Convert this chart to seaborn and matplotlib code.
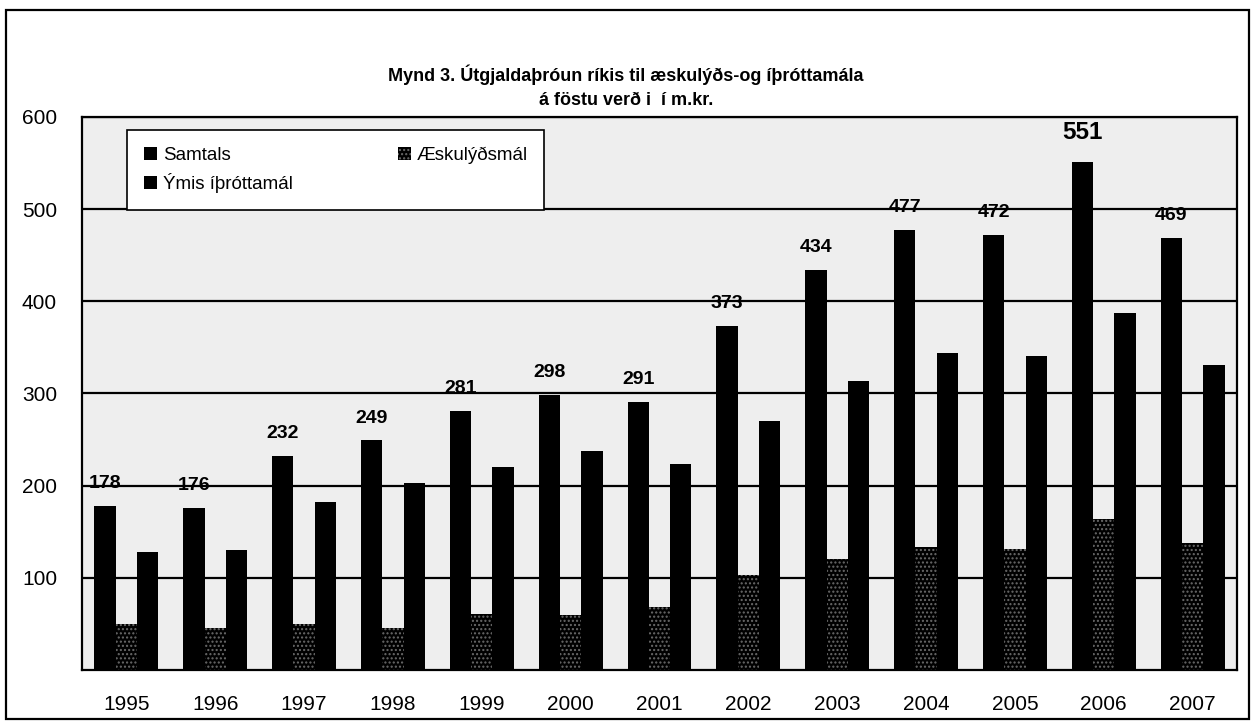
import seaborn as sns
from matplotlib import pyplot as plt
from matplotlib.patches import Rectangle
import pandas as pd

years = ['1995', '1996', '1997', '1998', '1999', '2000', '2001',
         '2002', '2003', '2004', '2005', '2006', '2007']
samtals = [178, 176, 232, 249, 281, 298, 291, 373, 434, 477, 472, 551, 469]
aesku = [50, 46, 50, 46, 61, 60, 68, 103, 120, 133, 131, 164, 138]
ymis = [128, 130, 182, 203, 220, 238, 223, 270, 314, 344, 341, 387, 331]
series = ['Samtals', 'Æskulýðsmál', 'Ýmis íþróttamál']

df = pd.DataFrame({
    'ar': years * 3,
    'gildi': samtals + aesku + ymis,
    'flokkur': [series[0]] * 13 + [series[1]] * 13 + [series[2]] * 13,
})

sns.set_style('white')
plt.rcParams['font.family'] = ['Liberation Sans', 'DejaVu Sans']
plt.rcParams['hatch.linewidth'] = 1.0
for k in ['text.color', 'axes.labelcolor', 'xtick.color', 'ytick.color']:
    plt.rcParams[k] = 'black'

fig = plt.figure(figsize=(12.52, 7.22), dpi=100)
ax = fig.add_axes([0.0655, 0.072, 0.9225, 0.766])
ax.set_facecolor('#eeeeee')

pal = {series[0]: '#000000', series[1]: '#000000', series[2]: '#000000'}
sns.barplot(data=df, x='ar', y='gildi', hue='flokkur', palette=pal,
            width=0.72, gap=0, saturation=1, legend=False, ax=ax,
            linewidth=0, zorder=3)

for bar in ax.containers[1].patches:
    bar.set_hatch('....')
    bar.set_edgecolor('#6a6a6a')
    bar.set_linewidth(0)

for bar, v in zip(ax.containers[0].patches, samtals):
    big = v == max(samtals)
    ax.annotate(str(v), (bar.get_x() + bar.get_width() / 2, v),
                xytext=(0, 13 if big else 10), textcoords='offset points',
                ha='center', va='bottom', fontweight='bold',
                fontsize=17.5 if big else 14, zorder=5)

ax.set_ylim(0, 600)
ax.set_xlim(-0.5, 12.5)
ax.set_yticks([100, 200, 300, 400, 500, 600])
ax.yaxis.grid(True, color='black', linewidth=1.6, zorder=1)
ax.set_axisbelow(True)
ax.set_xticks([i + 0.5 for i in range(-1, 13)], minor=True)
ax.tick_params(axis='x', which='major', length=0, labelsize=15, pad=18)
ax.tick_params(axis='x', which='minor', length=6, width=1.5, direction='out')
ax.tick_params(axis='y', length=8, width=1.5, direction='out', labelsize=15, pad=10)
ax.set_xlabel('')
ax.set_ylabel('')
for s in ax.spines.values():
    s.set_visible(True)
    s.set_color('black')
    s.set_linewidth(1.6)

handles = [ax.containers[0], ax.containers[2], ax.containers[1]]
labels = [series[0], series[2], series[1]]
leg = ax.legend(handles, labels, ncol=2, loc='upper left',
                bbox_to_anchor=(0.039, 0.977), borderaxespad=0,
                frameon=True, fancybox=False,
                edgecolor='black', framealpha=1, fontsize=13.5,
                handlelength=0.7, handleheight=0.7, handletextpad=0.3,
                columnspacing=5.6, labelspacing=0.5, borderpad=0.9)
leg.get_frame().set_linewidth(1.2)
leg.set_zorder(10)

fig.text(0.5, 0.896, 'Mynd 3. Útgjaldaþróun ríkis til æskulýðs-og íþróttamála',
         ha='center', va='center', fontsize=13, fontweight='bold')
fig.text(0.5, 0.861, 'á föstu verð i  í m.kr.',
         ha='center', va='center', fontsize=13, fontweight='bold')

fig.patches.append(Rectangle((0.005, 0.004), 0.993, 0.982, transform=fig.transFigure,
                             fill=False, edgecolor='black', linewidth=1.6))

fig.savefig('out.png', dpi=100)
